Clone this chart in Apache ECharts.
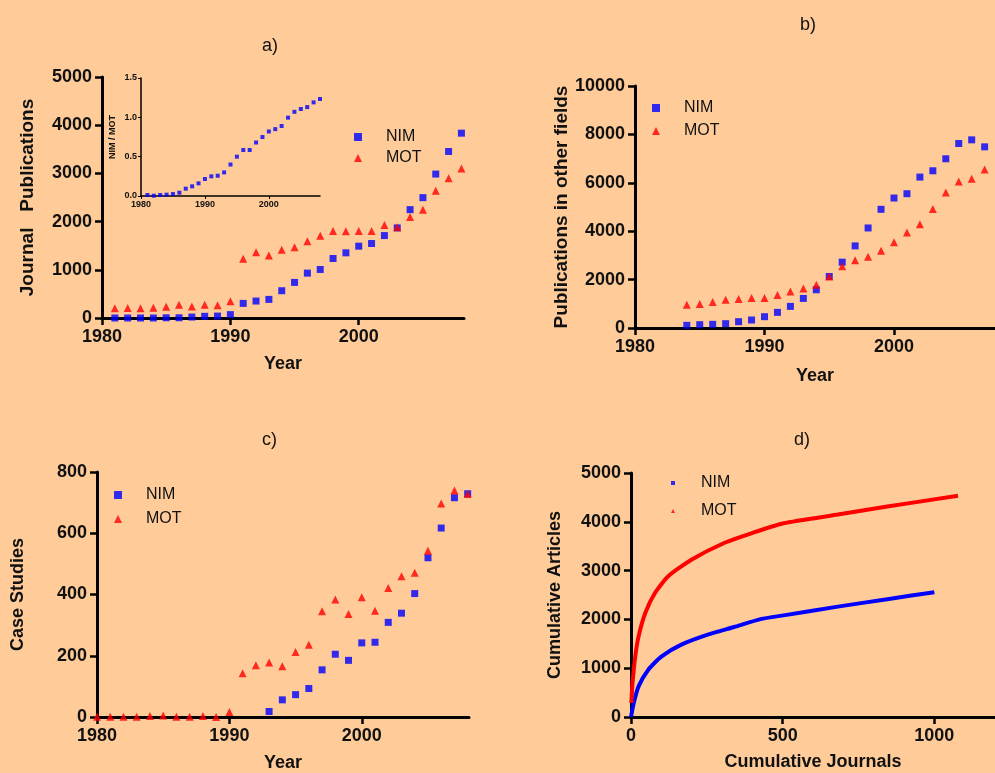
<!DOCTYPE html>
<html>
<head>
<meta charset="utf-8">
<script src="https://cdn.jsdelivr.net/npm/echarts@6/dist/echarts.min.js"></script>
<style>
html,body{margin:0;padding:0;background:#FFCC99;}
#main{width:995px;height:773px;}
</style>
</head>
<body>
<div id="main"></div>
<script>
// ---- Panel a: journal publications ----
const yearsA = [1981,1982,1983,1984,1985,1986,1987,1988,1989,1990,1991,1992,1993,1994,1995,1996,1997,1998,1999,2000,2001,2002,2003,2004,2005,2006,2007,2008];
const nimA = [0,0,0,0,5,5,20,35,40,70,303,352,386,566,738,931,1007,1234,1352,1490,1545,1710,1869,2248,2497,2986,3455,3835];
const motA = [200,207,200,214,234,276,241,276,262,345,1228,1366,1297,1414,1469,1593,1704,1807,1800,1807,1807,1931,1883,2097,2248,2641,2897,3103];
// ---- Inset: NIM / MOT ratio ----
const ratio = [0.013,0.004,0.013,0.017,0.025,0.042,0.093,0.123,0.161,0.216,0.25,0.258,0.30,0.40,0.50,0.585,0.585,0.68,0.75,0.82,0.85,0.89,0.996,1.07,1.106,1.13,1.19,1.233];
// ---- Panel b: publications in other fields ----
const yearsB = [1984,1985,1986,1987,1988,1989,1990,1991,1992,1993,1994,1995,1996,1997,1998,1999,2000,2001,2002,2003,2004,2005,2006,2007];
const nimB = [110,137,151,179,261,330,467,646,893,1222,1580,2129,2720,3393,4134,4904,5371,5549,6236,6497,6992,7623,7775,7486];
const motB = [962,989,1071,1168,1195,1236,1236,1360,1511,1635,1786,2129,2555,2802,2940,3187,3544,3942,4286,4917,5604,6058,6167,6552];
// ---- Panel c: case studies ----
const yearsCnim = [1993,1994,1995,1996,1997,1998,1999,2000,2001,2002,2003,2004,2005,2006,2007,2008];
const nimC = [18,56,73,93,154,205,185,242,244,309,339,403,520,617,716,729];
const yearsCmot = [1980,1981,1982,1983,1984,1985,1986,1987,1988,1989,1990,1991,1992,1993,1994,1995,1996,1997,1998,1999,2000,2001,2002,2003,2004,2005,2006,2007,2008];
const motC = [1,1,1,1,3,5,1,1,3,0,16,143,169,178,166,212,236,345,384,336,391,347,421,460,471,543,697,740,728];
// ---- Panel d: cumulative articles vs cumulative journals ----
const journalsNim = [0,1,9,25,57,101,166,253,340,427,503,682,845,1000];
const articlesNim = [0,12,287,627,969,1242,1482,1686,1844,2005,2083,2262,2415,2556];
const journalsMot = [1,5,14,25,47,79,122,199,307,399,503,682,845,1078];
const articlesMot = [287,697,1242,1652,2131,2541,2881,3223,3566,3770,3970,4148,4312,4535];
// ---- tick settings ----
const yearTicks = [1980,1990,2000];
const journalTicks = [0,500,1000];

const BLUE = '#0000FF', RED = '#FF0000', INK = '#111';
const FONT = 'Liberation Sans, Arial, Helvetica, sans-serif';

function zip(xs, ys){ return xs.map((x,i)=>[x, ys[i]]); }

function yearAxis(gridIndex, max, nameText, gap, small){
  return {
    type:'value', gridIndex, min:1980, max, interval:10,
    name:nameText, nameLocation:'middle', nameGap:gap,
    nameTextStyle:{fontFamily:FONT, fontWeight:'bold', fontSize:18, color:INK},
    axisLine:{show:true, onZero:false, lineStyle:{color:'#000', width: small?1.5:3}},
    axisTick:{show:true, length: small?3:7, lineStyle:{color:'#000', width: small?1:2.5}, customValues: yearTicks},
    axisLabel:{show:true, customValues: yearTicks, margin: small?4:10, fontFamily:FONT, fontWeight:'bold', fontSize: small?9:18, color:INK,
      formatter: v => String(v)},
    splitLine:{show:false}
  };
}
function valAxis(gridIndex, max, interval, nameText, gap, small, fmt, nameSize){
  return {
    type:'value', gridIndex, min:0, max, interval,
    name:nameText, nameLocation:'middle', nameGap:gap,
    nameTextStyle:{fontFamily:FONT, fontWeight:'bold', fontSize: nameSize || (small?9:18), color:INK},
    axisLine:{show:true, onZero:false, lineStyle:{color:'#000', width: small?1.5:3}},
    axisTick:{show:true, length: small?3:7, lineStyle:{color:'#000', width: small?1:2.5}},
    axisLabel:{margin: small?4:10, fontFamily:FONT, fontWeight:'bold', fontSize: small?9:18, color:INK, formatter: fmt || (v => String(v))},
    splitLine:{show:false}
  };
}
function legend(left, top, gap, iw){
  return {
    orient:'vertical', left, top, itemGap:gap, padding:0,
    itemWidth:iw, itemHeight:iw, selectedMode:false,
    textStyle:{fontFamily:FONT, fontSize:16, color:INK, lineHeight:16, padding:[0,0,0,23 - iw/2]},
    data:[{name:'NIM', icon:'rect', itemStyle:{color:BLUE}}, {name:'MOT', icon:'triangle', itemStyle:{color:RED}}]
  };
}

const chart = echarts.init(document.getElementById('main'), null, {renderer:'canvas'});
chart.setOption({
  backgroundColor:'#FFCC99',
  animation:false,
  title:[
    {text:'a)', left:257, top:32, textStyle:{fontFamily:FONT, fontWeight:'normal', fontSize:18, color:INK}},
    {text:'b)', left:795, top:11, textStyle:{fontFamily:FONT, fontWeight:'normal', fontSize:18, color:INK}},
    {text:'c)', left:257, top:426, textStyle:{fontFamily:FONT, fontWeight:'normal', fontSize:18, color:INK}},
    {text:'d)', left:789, top:426, textStyle:{fontFamily:FONT, fontWeight:'normal', fontSize:18, color:INK}}
  ],
  legend:[
    legend(354, 129, 5, 8),
    legend(652, 100, 7, 8),
    legend(114, 487, 8, 8),
    legend(671, 475, 12, 4)
  ],
  grid:[
    {left:102, top:77, width:362, height:241},
    {left:141, top:78, width:179, height:118},
    {left:635, top:86, width:360, height:242},
    {left:97, top:472, width:372, height:245},
    {left:631, top:473, width:368, height:244}
  ],
  xAxis:[
    yearAxis(0, 2008.2, 'Year', 37, false),
    yearAxis(1, 2008, '', 0, true),
    yearAxis(2, 2007.8, 'Year', 39, false),
    yearAxis(3, 2008.1, 'Year', 37, false),
    Object.assign(valAxis(4, 1200, 500, 'Cumulative Journals', 36, false), {
      axisTick:{show:true, length:7, lineStyle:{color:'#000', width:2.5}, customValues:journalTicks},
      axisLabel:{margin:10, fontFamily:FONT, fontWeight:'bold', fontSize:18, color:INK, customValues:journalTicks, formatter: v => String(v)}
    })
  ],
  yAxis:[
    valAxis(0, 5000, 1000, 'Journal   Publications', 65, false, null, 19),
    valAxis(1, 1.5, 0.5, 'NIM / MOT', 24, true, v => v.toFixed(1)),
    valAxis(2, 10000, 2000, 'Publications in other fields', 64, false, null, 19),
    valAxis(3, 800, 200, 'Case Studies', 70, false),
    valAxis(4, 5000, 1000, 'Cumulative Articles', 67, false)
  ],
  series:[
    {name:'NIM', type:'scatter', xAxisIndex:0, yAxisIndex:0, symbol:'rect', symbolSize:7, itemStyle:{color:BLUE}, data:zip(yearsA, nimA)},
    {name:'MOT', type:'scatter', xAxisIndex:0, yAxisIndex:0, symbol:'triangle', symbolSize:8, itemStyle:{color:RED}, data:zip(yearsA, motA)},
    {name:'NIM/MOT', type:'scatter', xAxisIndex:1, yAxisIndex:1, symbol:'rect', symbolSize:4, itemStyle:{color:BLUE}, data:zip(yearsA, ratio)},
    {name:'NIM', type:'scatter', xAxisIndex:2, yAxisIndex:2, symbol:'rect', symbolSize:7, itemStyle:{color:BLUE}, data:zip(yearsB, nimB)},
    {name:'MOT', type:'scatter', xAxisIndex:2, yAxisIndex:2, symbol:'triangle', symbolSize:8, itemStyle:{color:RED}, data:zip(yearsB, motB)},
    {name:'NIM', type:'scatter', xAxisIndex:3, yAxisIndex:3, symbol:'rect', symbolSize:7, itemStyle:{color:BLUE}, data:zip(yearsCnim, nimC)},
    {name:'MOT', type:'scatter', xAxisIndex:3, yAxisIndex:3, symbol:'triangle', symbolSize:8, itemStyle:{color:RED}, data:zip(yearsCmot, motC)},
    {name:'NIM', type:'line', xAxisIndex:4, yAxisIndex:4, showSymbol:false, smooth:0.2, lineStyle:{color:BLUE, width:4}, itemStyle:{color:BLUE}, data:zip(journalsNim, articlesNim)},
    {name:'MOT', type:'line', xAxisIndex:4, yAxisIndex:4, showSymbol:false, smooth:0.2, lineStyle:{color:RED, width:4}, itemStyle:{color:RED}, data:zip(journalsMot, articlesMot)}
  ]
});
</script>
</body>
</html>
